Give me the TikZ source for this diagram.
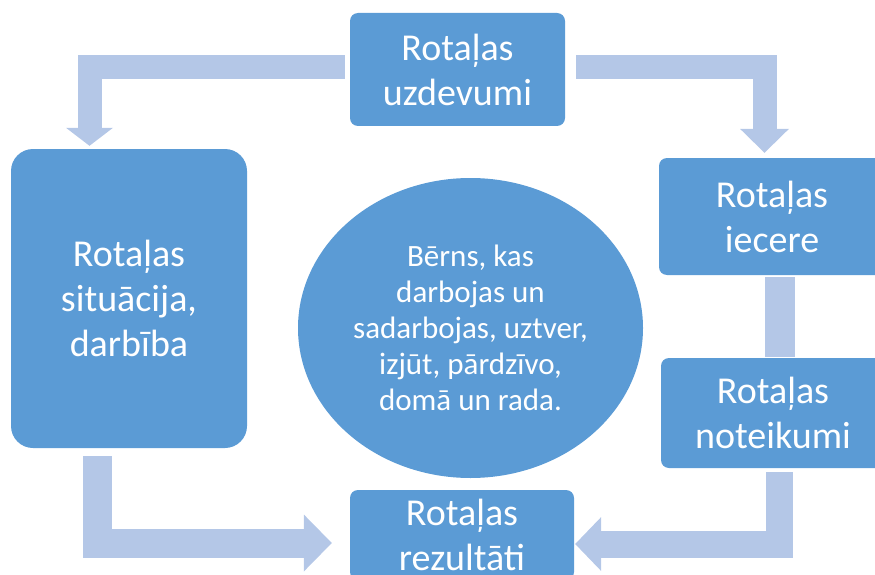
\documentclass[tikz,border=0pt]{standalone}
\usepackage{fontspec}
\setmainfont{Carlito}
\usetikzlibrary{arrows.meta,shapes.geometric}
\definecolor{boxblue}{HTML}{5B9BD5}
\definecolor{flowblue}{HTML}{B4C7E7}

\begin{document}
\begin{tikzpicture}[
    x=1pt,y=-1pt,
    task/.style={fill=boxblue, text=white, rounded corners=8pt, inner sep=0pt,
      align=center, font=\fontsize{38}{45}\selectfont},
    flow/.style={draw=flowblue, line join=miter},
    head/.style args={#1/#2}{-{Triangle[length=#1pt,width=#2pt,line width=0pt,fill=flowblue]}}
    ]
    \useasboundingbox (0,0) rectangle (875,575);
    \clip (0,0) rectangle (875,575);
    \node[task, minimum width=215pt, minimum height=113pt] (uzd) at (457.5,69.5) {Rotaļas\\uzdevumi};
    \node[task, rounded corners=22pt, minimum width=236pt, minimum height=299pt] (sit) at (129,298.5) {Rotaļas\\situācija,\\darbība};
    \node[task, minimum width=226pt, minimum height=117pt] (iec) at (772,216.5) {Rotaļas\\iecere};
    \node[task, minimum width=224pt, minimum height=110pt] (not) at (773,413) {Rotaļas\\noteikumi};
    \node[task, minimum width=224pt, minimum height=90pt] (rez) at (462,535) {Rotaļas\\rezultāti};
    \node[ellipse, fill=boxblue, text=white, inner sep=0pt, minimum width=345pt, minimum height=300pt,
      align=center, font=\fontsize{31}{36}\selectfont] (child) at (470.5,328)
      {Bērns, kas\\darbojas un\\sadarbojas, uztver,\\izjūt, pārdzīvo,\\domā un rada.};
    \draw[flow, line width=24pt, head=18/47] ([xshift=-5pt,yshift=2.5pt]uzd.west) -| ([xshift=-39.5pt,yshift=3pt]sit.north);
    \draw[flow, line width=24pt, head=24/49] ([xshift=11pt,yshift=2.5pt]uzd.east) -| ([xshift=-7.5pt,yshift=5pt]iec.north);
    \draw[flow, line width=30pt] ([xshift=8pt,yshift=-2pt]iec.south) -- ([xshift=7pt,yshift=1pt]not.north);
    \draw[flow, line width=27pt, head=26/54] ([xshift=6.5pt,yshift=-4pt]not.south) |- ([xshift=1pt,yshift=-9pt]rez.east);
    \draw[flow, line width=29pt, head=28/57] ([xshift=-31.5pt,yshift=-8pt]sit.south) |- ([xshift=-18pt,yshift=-8pt]rez.west);
  \end{tikzpicture}
\end{document}
